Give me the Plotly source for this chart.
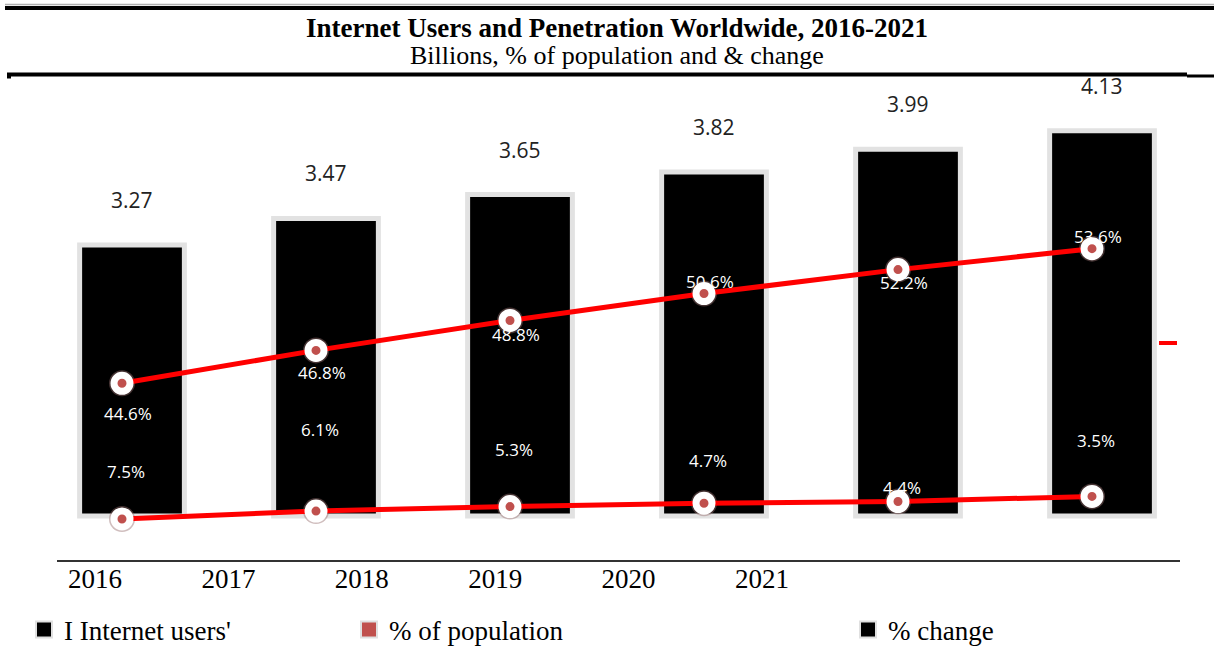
import plotly.graph_objects as go

# ---------------- data ----------------
years = ["2016", "2017", "2018", "2019", "2020", "2021"]
users_bn = [3.27, 3.47, 3.65, 3.82, 3.99, 4.13]
pct_population = [44.6, 46.8, 48.8, 50.6, 52.2, 53.6]
pct_change = [7.5, 6.1, 5.3, 4.7, 4.4, 3.5]

title_text = "<b>Internet Users and Penetration Worldwide, 2016-2021</b>"
subtitle_text = "Billions, % of population and & change"
legend_names = ["I Internet users'", "% of population", "% change"]

# ---------------- layout geometry ----------------
W, H = 1214, 647
L, R, T, B = 57, 34, 80, 87
PW, PH = W - L - R, H - T - B


def xp(px):
    return (px - L) / PW


def yp(py):
    return (H - B - py) / PH


# category axis for bars: first bar centred at 132px, 194px per category
bar_x_range = [(L - 132) / 194, (L + PW - 132) / 194]
# line series sit slightly left of the bar centres
line_x_range = [(L - 122) / 194, (L + PW - 122) / 194]
# year tick labels (offset row as in the original)
tick_x_range = [(L - 95) / 133.4, (L + PW - 95) / 133.4]


def lin_range(v0, p0, ppu):
    # value v0 drawn at pixel p0, ppu pixels per unit (upwards)
    return [v0 - (H - B - p0) / ppu, v0 + (p0 - T) / ppu]


y_range = lin_range(3.7217, 185.0, 133.0)
BASE = 3.7217 - (516 - 185.0) / 133.0
y2_range = lin_range(49.433, 311.0, 14.96)
# change axis drawn reversed
y3_range = [5.25 + (H - B - 506.3) / 5.64, 5.25 - (506.3 - T) / 5.64]

pop_label_shift = [-30, -22, -14, 12, -13, 12]
chg_label_shift = [47, 82, 57, 43, 14, 56]

RED = "#FF0000"
DOT = "#C0504D"
SERIF = "Liberation Serif"
SANS = "Open Sans"
idx = list(range(len(years)))

fig = go.Figure()

fig.add_trace(go.Bar(
    x=years, y=[v - BASE for v in users_bn], base=BASE,
    width=0.54, xaxis="x", yaxis="y",
    marker=dict(color="black", line=dict(color="#e2e2e2", width=5)),
    name=legend_names[0], showlegend=False, hoverinfo="skip",
))

marker_style = dict(size=16, color=DOT, line=dict(color="white", width=7))
halo_style = dict(size=26, color="rgba(150,110,110,0.45)")

for vals, yax in [(pct_population, "y2"), (pct_change, "y3")]:
    fig.add_trace(go.Scatter(
        x=years, y=vals, xaxis="x3", yaxis=yax, mode="markers",
        marker=halo_style, showlegend=False, hoverinfo="skip",
    ))
    fig.add_trace(go.Scatter(
        x=years, y=vals, xaxis="x3", yaxis=yax,
        mode="lines+markers", line=dict(color=RED, width=5),
        marker=marker_style, showlegend=False, hoverinfo="skip",
    ))

# legend swatches
for name, col, lg in zip(legend_names, ["black", DOT, "black"],
                         ["legend", "legend2", "legend3"]):
    fig.add_trace(go.Scatter(
        x=[None], y=[None], xaxis="x2", yaxis="y", mode="markers",
        marker=dict(symbol="square", size=16, color=col,
                    line=dict(color="#e0e0e0", width=2)),
        name=name, legend=lg, hoverinfo="skip"))

ann = []
for i, v in zip(idx, users_bn):
    ann.append(dict(x=i, y=v, xref="x", yref="y", yshift=45, showarrow=False,
                    yanchor="middle",
                    text=f"{v:.2f}", font=dict(family=SANS, size=21, color="#222")))
for i, v, s in zip(idx, pct_population, pop_label_shift):
    ann.append(dict(x=i, y=v, xref="x", yref="y2", yshift=s, xshift=-4,
                    yanchor="middle", showarrow=False, text=f"{v:.1f}%",
                    font=dict(family=SANS, size=17, color="white")))
for i, v, s in zip(idx, pct_change, chg_label_shift):
    ann.append(dict(x=i, y=v, xref="x", yref="y3", yshift=s, xshift=-6,
                    yanchor="middle", showarrow=False, text=f"{v:.1f}%",
                    font=dict(family=SANS, size=17, color="white")))
ann.append(dict(x=xp(617), y=yp(28), xref="paper", yref="paper", showarrow=False,
                xanchor="center", yanchor="middle",
                text=title_text, font=dict(family=SERIF, size=27, color="black")))
ann.append(dict(x=xp(617), y=yp(56), xref="paper", yref="paper", showarrow=False,
                xanchor="center", yanchor="middle",
                text=subtitle_text, font=dict(family=SERIF, size=26, color="black")))


def hline(x0, x1, y, color, width):
    return dict(type="line", xref="paper", yref="paper", x0=xp(x0), x1=xp(x1),
                y0=yp(y), y1=yp(y), line=dict(color=color, width=width))


shapes = [
    hline(5, 1214, 4.5, "#b0b0b0", 1.5),
    hline(5, 1214, 8, "black", 4),
    hline(7, 1187, 74.5, "black", 4),
    hline(1187, 1214, 76, "black", 3),
    hline(7, 11, 77, "black", 3),
    hline(1159, 1177, 343, RED, 4),
]

legend_common = dict(orientation="h", yanchor="middle", xanchor="left",
                     y=yp(630), bgcolor="rgba(0,0,0,0)", itemsizing="trace",
                     font=dict(family=SERIF, size=27, color="black"))

fig.update_layout(
    width=W, height=H,
    margin=dict(l=L, r=R, t=T, b=B, autoexpand=False),
    paper_bgcolor="white", plot_bgcolor="white",
    barmode="overlay",
    xaxis=dict(type="category", range=bar_x_range, showticklabels=False,
               showgrid=False, zeroline=False, showline=True,
               linecolor="#333", linewidth=1.5, ticks=""),
    xaxis2=dict(type="linear", overlaying="x", anchor="y", side="bottom",
                range=tick_x_range, tickmode="array",
                tickvals=idx, ticktext=years,
                showgrid=False, zeroline=False, showline=False,
                ticks="", tickfont=dict(family=SERIF, size=27, color="black")),
    xaxis3=dict(type="category", overlaying="x", range=line_x_range,
                visible=False),
    yaxis=dict(range=y_range, visible=False),
    yaxis2=dict(range=y2_range, overlaying="y", visible=False),
    yaxis3=dict(range=y3_range, overlaying="y", visible=False),
    legend=dict(x=xp(24), **legend_common),
    legend2=dict(x=xp(349), **legend_common),
    legend3=dict(x=xp(848), **legend_common),
    annotations=ann,
    shapes=shapes,
)

fig.write_html("out.html", config={"displayModeBar": False},
               post_script="document.body.style.margin='0';"
                           "document.body.style.padding='0';")
